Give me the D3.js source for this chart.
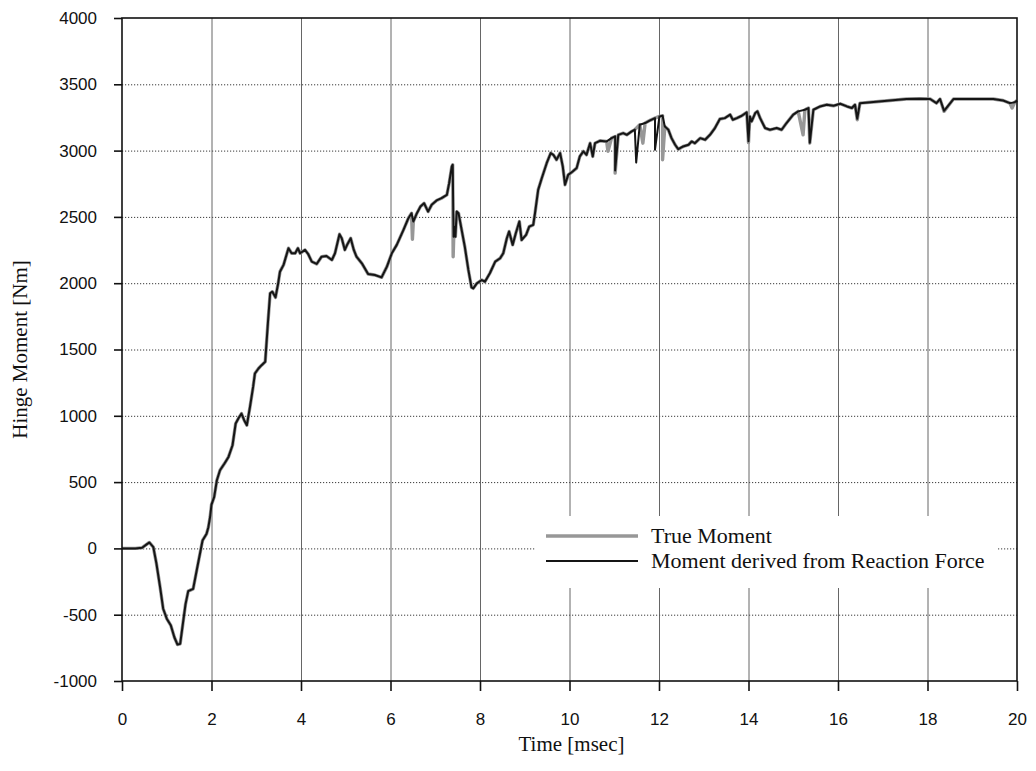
<!DOCTYPE html>
<html>
<head>
<meta charset="utf-8">
<script src="https://cdn.jsdelivr.net/npm/d3@7"></script>
<style>
  html, body { margin: 0; padding: 0; background: #fff; }
  svg { display: block; }
</style>
</head>
<body>
<svg id="chart" width="1036" height="771"></svg>
<script>
// Time axis samples [msec] and the common hinge-moment trace [Nm]
const timeMs = [
  0.00, 0.30, 0.45, 0.55, 0.61, 0.70, 0.77, 0.85, 0.92, 1.00, 1.09, 1.17, 1.24, 1.30, 1.36, 1.42,
  1.48, 1.59, 1.67, 1.80, 1.89, 1.93, 1.97, 2.00, 2.06, 2.12, 2.19, 2.29, 2.38, 2.47, 2.54, 2.60,
  2.67, 2.73, 2.79, 2.86, 2.93, 2.97, 3.05, 3.12, 3.20, 3.26, 3.31, 3.36, 3.43, 3.49, 3.53, 3.61,
  3.72, 3.79, 3.87, 3.93, 3.98, 4.09, 4.16, 4.24, 4.35, 4.46, 4.57, 4.69, 4.76, 4.86, 4.91, 4.98,
  5.03, 5.11, 5.18, 5.24, 5.36, 5.50, 5.65, 5.80, 5.92, 6.03, 6.14, 6.29, 6.40, 6.47, 6.51, 6.59,
  6.67, 6.75, 6.84, 6.92, 7.03, 7.14, 7.26, 7.31, 7.37, 7.39, 7.42, 7.45, 7.48, 7.52, 7.59, 7.66,
  7.74, 7.81, 7.85, 7.93, 8.04, 8.11, 8.22, 8.34, 8.45, 8.52, 8.60, 8.65, 8.73, 8.80, 8.88, 8.93,
  9.03, 9.10, 9.19, 9.23, 9.30, 9.38, 9.49, 9.58, 9.64, 9.71, 9.79, 9.85, 9.90, 9.97, 10.07, 10.16,
  10.23, 10.31, 10.38, 10.46, 10.52, 10.57, 10.68, 10.83, 10.94, 11.02, 11.09, 11.20, 11.28, 11.39, 11.46, 11.57,
  11.69, 11.80, 11.91, 12.01, 12.08, 12.13, 12.21, 12.28, 12.36, 12.43, 12.54, 12.66, 12.73, 12.80, 12.92, 13.03,
  13.14, 13.25, 13.36, 13.47, 13.59, 13.65, 13.74, 13.85, 13.96, 14.03, 14.07, 14.15, 14.20, 14.26, 14.37, 14.48,
  14.63, 14.74, 14.85, 15.00, 15.11, 15.26, 15.34, 15.45, 15.60, 15.75, 15.90, 16.05, 16.20, 16.31, 16.38, 16.49,
  16.79, 17.16, 17.53, 17.83, 18.06, 18.20, 18.28, 18.58, 19.02, 19.47, 19.69, 19.84, 19.95, 20.00
];
const momentNm = [
  0, 0, 5, 30, 45, 10, -115, -290, -455, -530, -580, -670, -725, -720, -570, -420,
  -322, -305, -165, 60, 110, 160, 240, 330, 388, 514, 589, 640, 690, 778, 942, 980,
  1017, 967, 929, 1067, 1218, 1319, 1357, 1382, 1407, 1697, 1924, 1936, 1893, 1999, 2087, 2138,
  2264, 2226, 2226, 2264, 2226, 2251, 2220, 2163, 2145, 2200, 2205, 2175, 2226, 2369, 2339, 2251,
  2289, 2339, 2251, 2200, 2150, 2069, 2062, 2044, 2125, 2226, 2289, 2402, 2490, 2528, 2465, 2528,
  2578, 2603, 2540, 2591, 2624, 2641, 2666, 2754, 2880, 2893, 2427, 2351, 2540, 2528, 2402, 2276,
  2100, 1969, 1961, 1999, 2024, 2011, 2075, 2163, 2188, 2226, 2339, 2390, 2289, 2377, 2465, 2326,
  2364, 2427, 2440, 2530, 2704, 2792, 2905, 2981, 2968, 2931, 2981, 2880, 2742, 2817, 2842, 2868,
  2956, 2994, 2968, 3056, 2956, 3056, 3074, 3069, 3094, 3107, 3119, 3132, 3119, 3145, 3158, 3195,
  3208, 3228, 3245, 3258, 3263, 3182, 3157, 3094, 3044, 3011, 3031, 3044, 3069, 3056, 3094, 3082,
  3119, 3170, 3238, 3245, 3271, 3233, 3245, 3263, 3288, 3258, 3220, 3283, 3296, 3245, 3170, 3157,
  3170, 3157, 3208, 3271, 3296, 3308, 3321, 3308, 3333, 3346, 3338, 3353, 3333, 3321, 3346, 3358,
  3366, 3378, 3389, 3391, 3389, 3358, 3389, 3389, 3389, 3389, 3378, 3358, 3364, 3378
];

// Short downward glitches that appear in one trace only or in both: [time, moment]
const trueDips = [
  [6.49, 2332], [7.40, 2200], [10.86, 2994], [11.02, 2830], [11.64, 3056], [12.08, 2931],
  [14.00, 3060], [15.22, 3119], [15.37, 3056], [16.43, 3233], [18.37, 3296], [19.89, 3321]
];
const derivedDips = [
  [7.41, 2351], [11.02, 2850], [11.49, 2910], [11.91, 3006], [14.00, 3070],
  [15.37, 3060], [16.43, 3240], [18.37, 3300]
];

const seriesNames = ["True Moment", "Moment derived from Reaction Force"];
const xTicks = [0, 2, 4, 6, 8, 10, 12, 14, 16, 18, 20];
const yTicks = [-1000, -500, 0, 500, 1000, 1500, 2000, 2500, 3000, 3500, 4000];

// Merge the common trace with a set of glitches, ordered by time
function buildSeries(dips) {
  const pts = timeMs.map((t, i) => [t, momentNm[i]]);
  dips.forEach(d => pts.push(d));
  return pts.sort((a, b) => a[0] - b[0]);
}

(function draw() {
  const svg = d3.select("#chart");
  const plotLeft = 122, plotRight = 1017, plotTop = 18, plotBottom = 681;

  const x = d3.scaleLinear().domain([0, 20]).range([plotLeft, plotRight]);
  const y = d3.scaleLinear().domain([-1000, 4000]).range([plotBottom, plotTop]);

  const tickFont = "'Liberation Sans', Arial, Helvetica, sans-serif";
  const serifFont = "'Liberation Serif', 'Times New Roman', Times, serif";

  // Grid
  const grid = svg.append("g");
  grid.selectAll("line.h")
    .data(yTicks.filter(v => v > -1000 && v < 4000))
    .join("line")
    .attr("x1", plotLeft).attr("x2", plotRight)
    .attr("y1", d => y(d) + 0.5).attr("y2", d => y(d) + 0.5)
    .attr("stroke", "#3a3a3a").attr("stroke-width", 1)
    .attr("stroke-dasharray", "1.2,1.8");
  grid.selectAll("line.v")
    .data(xTicks.filter(v => v > 0 && v < 20))
    .join("line")
    .attr("x1", d => x(d) + 0.5).attr("x2", d => x(d) + 0.5)
    .attr("y1", plotTop).attr("y2", plotBottom)
    .attr("stroke", "#555").attr("stroke-width", 0.9);

  // Legend box masks the grid beneath it
  const legendG = svg.append("g");
  legendG.append("rect")
    .attr("x", 536).attr("y", 516).attr("width", 462).attr("height", 72)
    .attr("fill", "#fff");

  // Traces
  const line = d3.line().x(d => x(d[0])).y(d => y(d[1]));
  const plot = svg.append("g");
  plot.append("path")
    .datum(buildSeries(trueDips))
    .attr("d", line)
    .attr("fill", "none")
    .attr("stroke", "#979797")
    .attr("stroke-width", 3.4)
    .attr("stroke-linejoin", "round");
  plot.append("path")
    .datum(buildSeries(derivedDips))
    .attr("d", line)
    .attr("fill", "none")
    .attr("stroke", "#151515")
    .attr("stroke-width", 2)
    .attr("stroke-linejoin", "round");

  // Frame
  svg.append("rect")
    .attr("x", plotLeft).attr("y", plotTop)
    .attr("width", plotRight - plotLeft).attr("height", plotBottom - plotTop)
    .attr("fill", "none").attr("stroke", "#111").attr("stroke-width", 1.6);

  // Axes (plain hyphen for negative labels)
  const fmt = d => String(d);
  const xAxis = svg.append("g")
    .attr("transform", `translate(0,${plotBottom})`)
    .call(d3.axisBottom(x).tickValues(xTicks).tickSize(10).tickPadding(22).tickFormat(fmt));
  const yAxis = svg.append("g")
    .attr("transform", `translate(${plotLeft},0)`)
    .call(d3.axisLeft(y).tickValues(yTicks).tickSize(8).tickPadding(17).tickFormat(fmt));

  [xAxis, yAxis].forEach(g => {
    g.select(".domain").remove();
    g.selectAll(".tick line").attr("stroke", "#111").attr("stroke-width", 1.6);
    g.selectAll(".tick text")
      .attr("fill", "#111")
      .style("font-family", tickFont)
      .style("font-size", "17px");
  });

  // Axis titles
  svg.append("text")
    .attr("x", (plotLeft + plotRight) / 2 + 2).attr("y", 751)
    .attr("text-anchor", "middle")
    .style("font-family", serifFont).style("font-size", "21px").attr("fill", "#111")
    .text("Time [msec]");
  svg.append("text")
    .attr("transform", `translate(27,${(plotTop + plotBottom) / 2}) rotate(-90)`)
    .attr("text-anchor", "middle")
    .style("font-family", serifFont).style("font-size", "21px").attr("fill", "#111")
    .text("Hinge Moment [Nm]");

  // Legend entries
  const legendRows = [
    { name: seriesNames[0], color: "#979797", width: 3.4, y: 536 },
    { name: seriesNames[1], color: "#151515", width: 2, y: 561 }
  ];
  legendRows.forEach(r => {
    legendG.append("line")
      .attr("x1", 546).attr("x2", 638).attr("y1", r.y).attr("y2", r.y)
      .attr("stroke", r.color).attr("stroke-width", r.width);
    legendG.append("text")
      .attr("x", 651).attr("y", r.y + 7)
      .style("font-family", serifFont).style("font-size", "22px").attr("fill", "#111")
      .text(r.name);
  });
})();
</script>
</body>
</html>
